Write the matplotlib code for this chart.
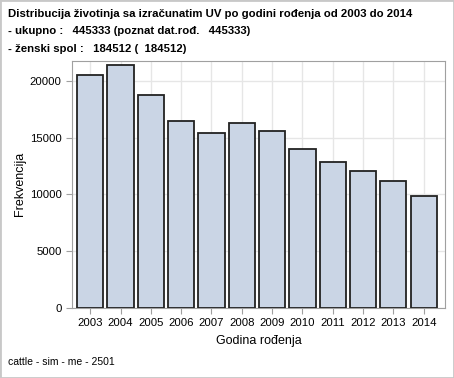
import matplotlib
matplotlib.use("Agg")
import matplotlib.pyplot as plt
from matplotlib.patches import Rectangle

plt.rcParams['font.family'] = ['Liberation Sans', 'DejaVu Sans']

years = ['2003', '2004', '2005', '2006', '2007', '2008',
         '2009', '2010', '2011', '2012', '2013', '2014']
counts = [20600, 21420, 18750, 16450, 15390, 16360,
          15570, 13980, 12850, 12060, 11230, 9850]
yticks = [0, 5000, 10000, 15000, 20000]

title_lines = [
    "Distribucija životinja sa izračunatim UV po godini rođenja od 2003 do 2014",
    "- ukupno :   445333 (poznat dat.rođ.   445333)",
    "- ženski spol :   184512 (  184512)",
]

fig = plt.figure(figsize=(4.54, 3.78), dpi=100)
ax = fig.add_axes([72/454, 1 - 307.5/378, (445 - 72)/454, (307.5 - 61)/378])

x = range(len(years))
ax.bar(x, counts, width=0.86, color='#CAD5E5', edgecolor='#222222',
       linewidth=1.3, zorder=3)

ax.set_xlim(-0.6, 11.7)
ax.set_ylim(0, 21800)
ax.set_xticks(list(x))
ax.set_xticklabels(years)
ax.set_yticks(yticks)
ax.grid(True, color='#E6E6E6', linewidth=1, zorder=0)
for s in ax.spines.values():
    s.set_color('#A0A0A0')
ax.tick_params(colors='#A0A0A0', labelcolor='black', labelsize=8.2, length=4)
ax.set_ylabel('Frekvencija', fontsize=9, labelpad=3)
ax.set_xlabel('Godina rođenja', fontsize=9, labelpad=5)

for i, line in enumerate(title_lines):
    fig.text(8/454, 1 - (14 + i*17.5)/378, line, fontsize=8.2,
             fontweight='bold', va='center', ha='left')
fig.text(8/454, 1 - 362/378, 'cattle - sim - me - 2501', fontsize=7.5,
         va='center', ha='left')

fig.patches.append(Rectangle((0, 0), 1, 1, transform=fig.transFigure,
                             fill=False, edgecolor='#C8C8C8', linewidth=2))

fig.savefig('out.png', dpi=100)
